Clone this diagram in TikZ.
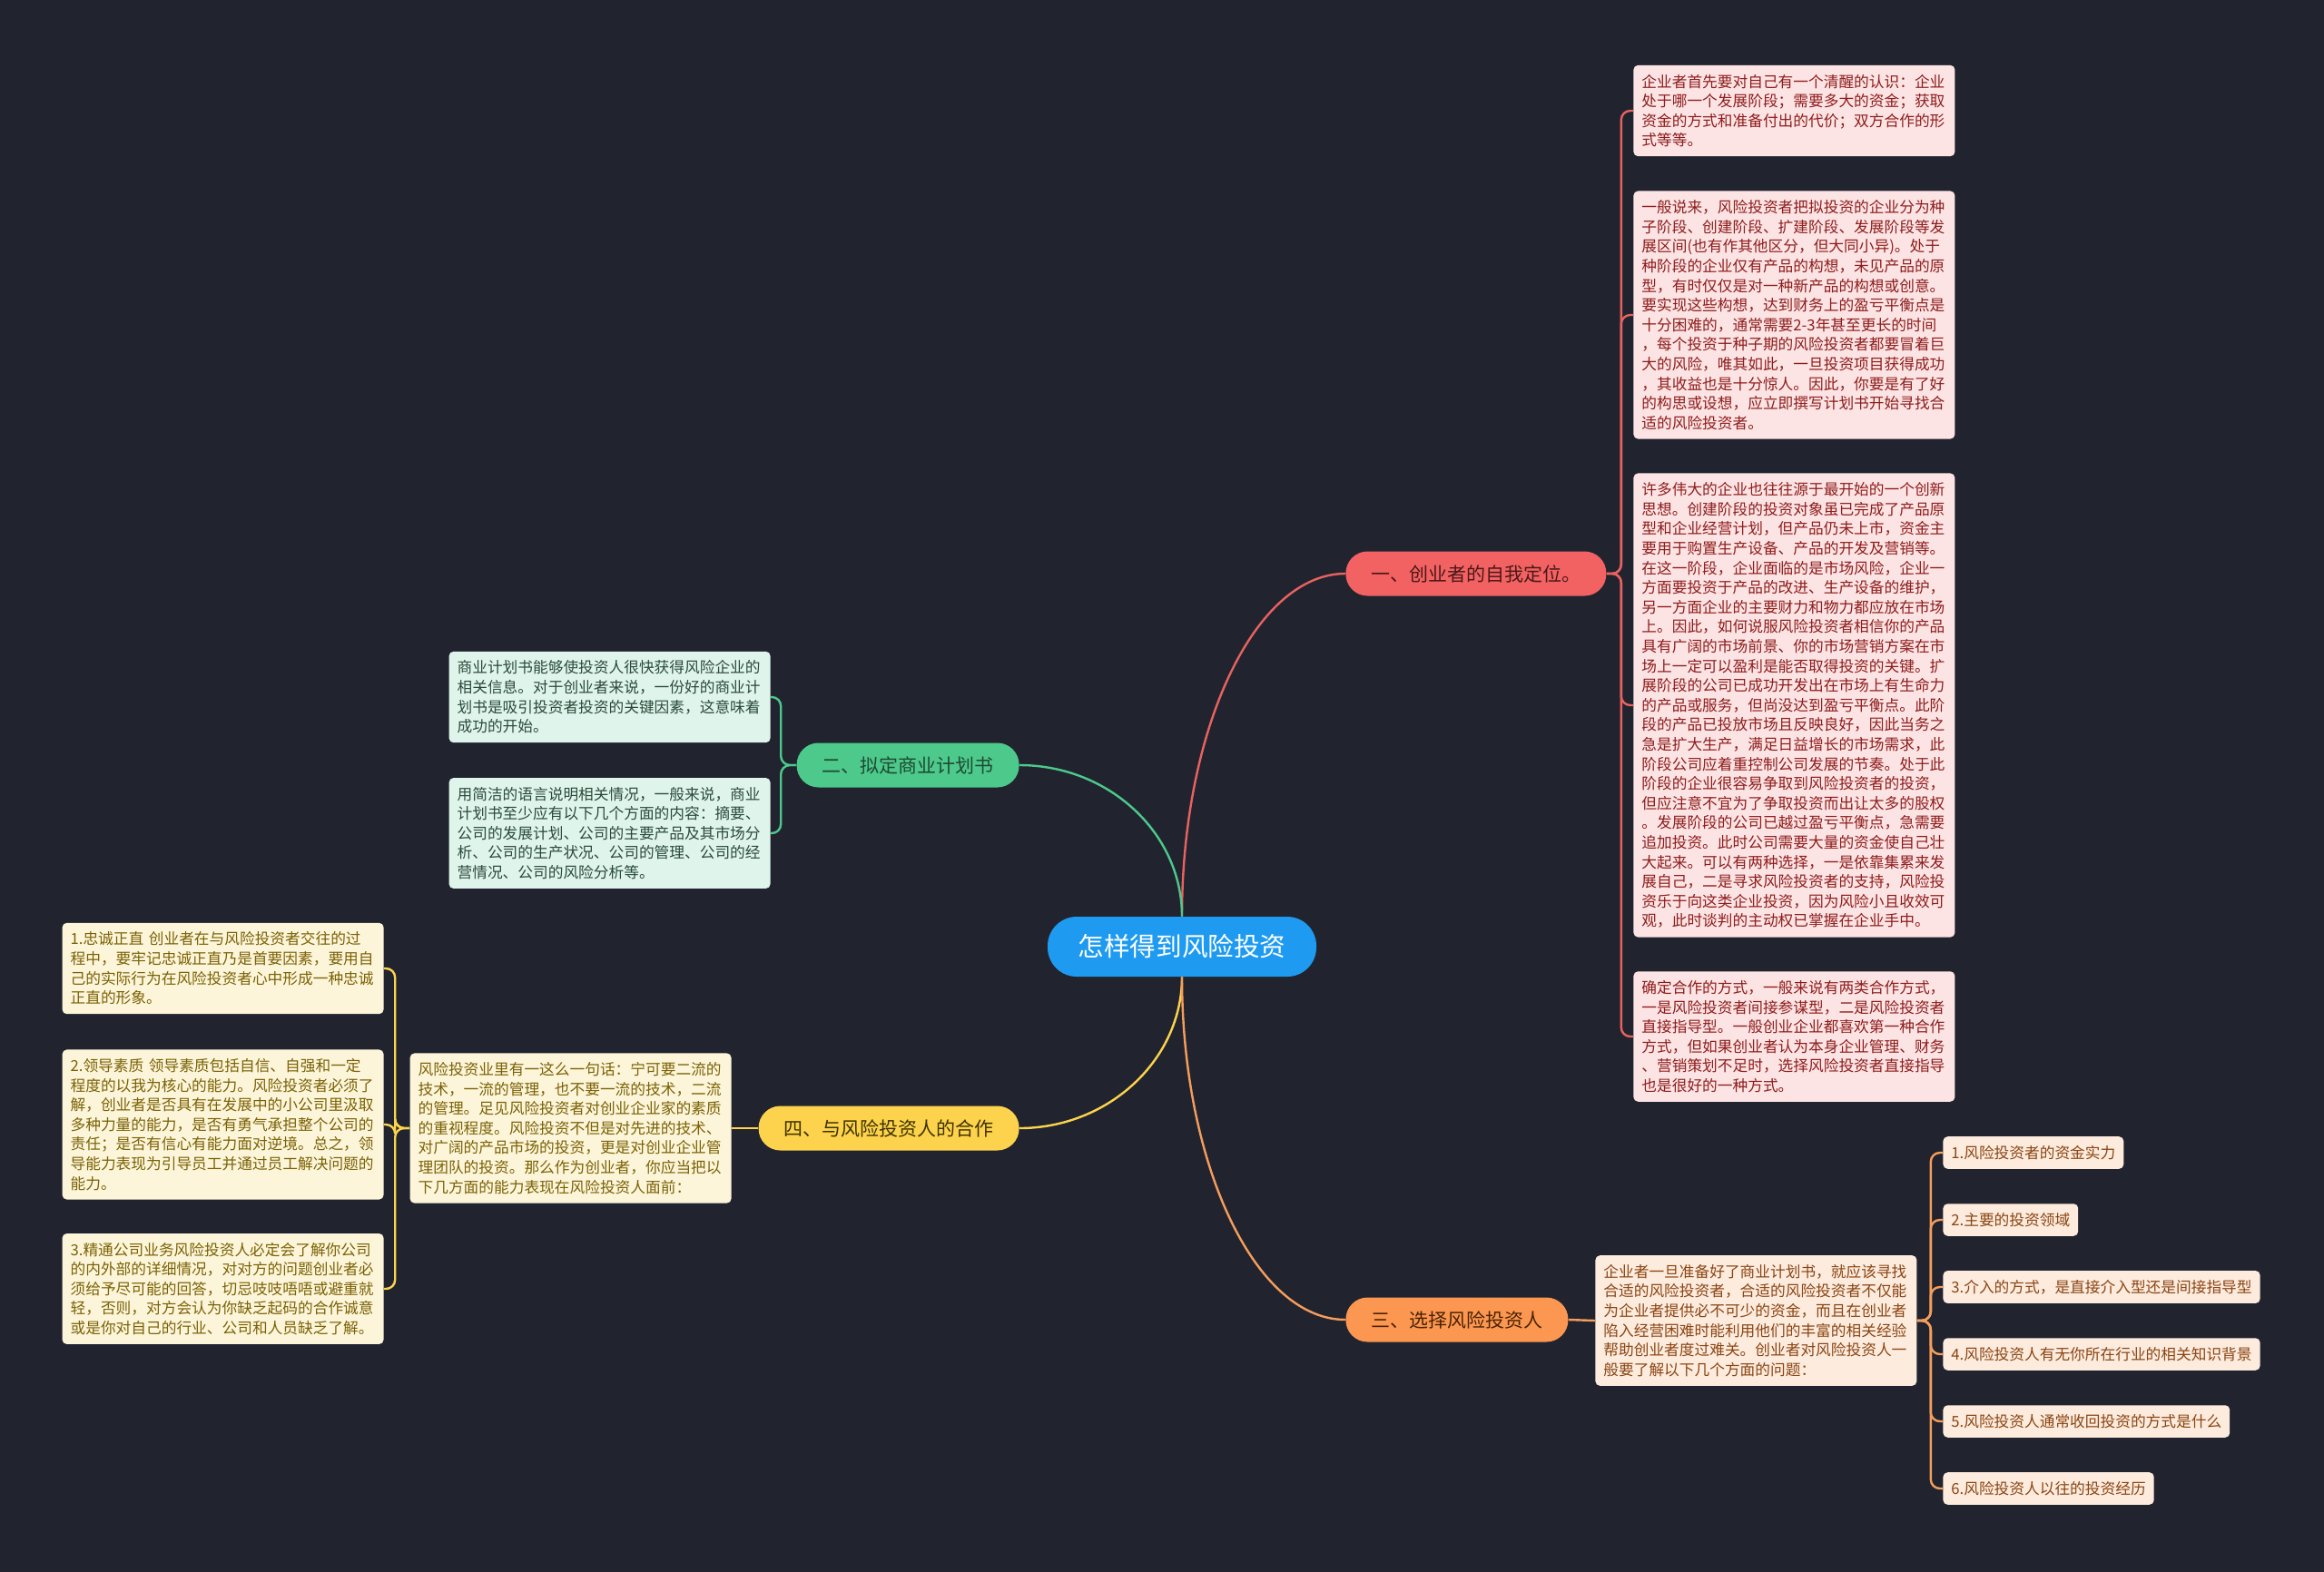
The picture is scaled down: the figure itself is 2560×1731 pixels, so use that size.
\documentclass[tikz,border=0pt]{standalone}
\usepackage{fontspec}
\newfontfamily\cjk{Noto Sans CJK SC}
\definecolor{bgdark}{HTML}{21242F}
\definecolor{rootblue}{HTML}{1E9BF0}
\definecolor{redtopic}{HTML}{F36262}
\definecolor{redline}{HTML}{E8625F}
\definecolor{redleaf}{HTML}{FDE4E4}
\definecolor{redtext}{HTML}{8E1C1C}
\definecolor{redhead}{HTML}{4A1818}
\definecolor{greentopic}{HTML}{4CC98B}
\definecolor{greenleaf}{HTML}{DFF5EB}
\definecolor{greentext}{HTML}{2B4A3B}
\definecolor{greenhead}{HTML}{1E4A33}
\definecolor{yellowtopic}{HTML}{FDD34D}
\definecolor{yellowleaf}{HTML}{FDF5DA}
\definecolor{yellowtext}{HTML}{7A6205}
\definecolor{yellowhead}{HTML}{3D3200}
\definecolor{orangetopic}{HTML}{FC9752}
\definecolor{orangeline}{HTML}{F59D5B}
\definecolor{orangeleaf}{HTML}{FDEBDE}
\definecolor{orangetext}{HTML}{8A4512}
\definecolor{orangehead}{HTML}{4A2200}
\begin{document}
\begin{tikzpicture}[x=0.5pt,y=-0.5pt,
    rootnode/.style={fill=rootblue,text=white,rounded corners=16pt,minimum width=148pt,minimum height=33pt,inner sep=0pt,font=\cjk\fontsize{14.3pt}{16pt}\selectfont},
    topic/.style={rounded corners=12pt,minimum height=24.5pt,inner xsep=14pt,inner ysep=0pt,font=\cjk\fontsize{10.5pt}{12pt}\selectfont},
    leaf/.style={rounded corners=2.5pt,inner xsep=4.5pt,inner ysep=5pt,font=\cjk\fontsize{8.35pt}{10.8pt}\selectfont},
    para/.style={leaf,text width=168pt,align=left},
    link/.style={line width=1.2pt},
    bracket/.style={link,rounded corners=5pt}]
    % Background
    \useasboundingbox (0,0) rectangle (2560,1731);
    \fill[bgdark] (-20,-20) rectangle (2580,1751);

    % Root
    \node[rootnode] (root) at (1302,1043) {怎样得到风险投资};

    % Main branches
    \node[topic,fill=redtopic,text=redhead,anchor=west] (self) at (1482,632) {一、创业者的自我定位。};
    \node[topic,fill=greentopic,text=greenhead,anchor=east] (plan) at (1123,843) {二、拟定商业计划书};
    \node[topic,fill=orangetopic,text=orangehead,anchor=west] (choose) at (1482,1454) {三、选择风险投资人};
    \node[topic,fill=yellowtopic,text=yellowhead,anchor=east] (work) at (1123,1243) {四、与风险投资人的合作};

    \draw[link,redline] (root.north) .. controls +(0,-208) and +(-99,0) .. (self.west);
    \draw[link,greentopic] (root.north) .. controls +(0,-92) and +(98,0) .. (plan.east);
    \draw[link,yellowtopic] (root.south) .. controls +(0,91) and +(98,0) .. (work.east);
    \draw[link,orangeline] (root.south) .. controls +(0,207) and +(-99,0) .. (choose.west);

    % Self positioning
    \node[para,fill=redleaf,text=redtext,anchor=west] (self1) at (1799,122) {企业者首先要对自己有一个清醒的认识：企业\\
处于哪一个发展阶段；需要多大的资金；获取\\
资金的方式和准备付出的代价；双方合作的形\\
式等等。};
    \node[para,fill=redleaf,text=redtext,anchor=west] (self2) at (1799,347) {一般说来，风险投资者把拟投资的企业分为种\\
子阶段、创建阶段、扩建阶段、发展阶段等发\\
展区间(也有作其他区分，但大同小异)。处于\\
种阶段的企业仅有产品的构想，未见产品的原\\
型，有时仅仅是对一种新产品的构想或创意。\\
要实现这些构想，达到财务上的盈亏平衡点是\\
十分困难的，通常需要2-3年甚至更长的时间\\
，每个投资于种子期的风险投资者都要冒着巨\\
大的风险，唯其如此，一旦投资项目获得成功\\
，其收益也是十分惊人。因此，你要是有了好\\
的构思或设想，应立即撰写计划书开始寻找合\\
适的风险投资者。};
    \node[para,fill=redleaf,text=redtext,anchor=west] (self3) at (1799,777) {许多伟大的企业也往往源于最开始的一个创新\\
思想。创建阶段的投资对象虽已完成了产品原\\
型和企业经营计划，但产品仍未上市，资金主\\
要用于购置生产设备、产品的开发及营销等。\\
在这一阶段，企业面临的是市场风险，企业一\\
方面要投资于产品的改进、生产设备的维护，\\
另一方面企业的主要财力和物力都应放在市场\\
上。因此，如何说服风险投资者相信你的产品\\
具有广阔的市场前景、你的市场营销方案在市\\
场上一定可以盈利是能否取得投资的关键。扩\\
展阶段的公司已成功开发出在市场上有生命力\\
的产品或服务，但尚没达到盈亏平衡点。此阶\\
段的产品已投放市场且反映良好，因此当务之\\
急是扩大生产，满足日益增长的市场需求，此\\
阶段公司应着重控制公司发展的节奏。处于此\\
阶段的企业很容易争取到风险投资者的投资，\\
但应注意不宜为了争取投资而出让太多的股权\\
。发展阶段的公司已越过盈亏平衡点，急需要\\
追加投资。此时公司需要大量的资金使自己壮\\
大起来。可以有两种选择，一是依靠集累来发\\
展自己，二是寻求风险投资者的支持，风险投\\
资乐于向这类企业投资，因为风险小且收效可\\
观，此时谈判的主动权已掌握在企业手中。};
    \node[para,fill=redleaf,text=redtext,anchor=west] (self4) at (1799,1142) {确定合作的方式，一般来说有两类合作方式，\\
一是风险投资者间接参谋型，二是风险投资者\\
直接指导型。一般创业企业都喜欢第一种合作\\
方式，但如果创业者认为本身企业管理、财务\\
、营销策划不足时，选择风险投资者直接指导\\
也是很好的一种方式。};
    \foreach \n in {1,...,4}
        \draw[bracket,redline] (self.east) -- ++(16,0) |- (self\n.west);

    % Business plan
    \node[para,fill=greenleaf,text=greentext,anchor=east] (plan1) at (849,768) {商业计划书能够使投资人很快获得风险企业的\\
相关信息。对于创业者来说，一份好的商业计\\
划书是吸引投资者投资的关键因素，这意味着\\
成功的开始。};
    \node[para,fill=greenleaf,text=greentext,anchor=east] (plan2) at (849,918) {用简洁的语言说明相关情况，一般来说，商业\\
计划书至少应有以下几个方面的内容：摘要、\\
公司的发展计划、公司的主要产品及其市场分\\
析、公司的生产状况、公司的管理、公司的经\\
营情况、公司的风险分析等。};
    \foreach \n in {1,2}
        \draw[bracket,greentopic] (plan.west) -- ++(-17,0) |- (plan\n.east);

    % Choosing an investor
    \node[para,fill=orangeleaf,text=orangetext,anchor=west] (pick) at (1757,1455) {企业者一旦准备好了商业计划书，就应该寻找\\
合适的风险投资者，合适的风险投资者不仅能\\
为企业者提供必不可少的资金，而且在创业者\\
陷入经营困难时能利用他们的丰富的相关经验\\
帮助创业者度过难关。创业者对风险投资人一\\
般要了解以下几个方面的问题：};
    \draw[link,orangeline] (choose.east) -- (pick.west);
    \foreach \txt [count=\n] in {1.风险投资者的资金实力,2.主要的投资领域,3.介入的方式，是直接介入型还是间接指导型,4.风险投资人有无你所在行业的相关知识背景,5.风险投资人通常收回投资的方式是什么,6.风险投资人以往的投资经历}{
        \node[leaf,fill=orangeleaf,text=orangetext,anchor=west] (pick\n) at (2140,1270+74*\n-74) {\txt};
        \draw[bracket,orangeline] (pick.east) -- ++(15,0) |- (pick\n.west);
    }

    % Working with the investor
    \node[para,fill=yellowleaf,text=yellowtext,anchor=east] (trait) at (806,1243) {风险投资业里有一这么一句话：宁可要二流的\\
技术，一流的管理，也不要一流的技术，二流\\
的管理。足见风险投资者对创业企业家的素质\\
的重视程度。风险投资不但是对先进的技术、\\
对广阔的产品市场的投资，更是对创业企业管\\
理团队的投资。那么作为创业者，你应当把以\\
下几方面的能力表现在风险投资人面前：};
    \draw[link,yellowtopic] (work.west) -- (trait.east);
    \node[para,fill=yellowleaf,text=yellowtext,anchor=east] (trait1) at (423,1067) {1.忠诚正直 创业者在与风险投资者交往的过\\
程中，要牢记忠诚正直乃是首要因素，要用自\\
己的实际行为在风险投资者心中形成一种忠诚\\
正直的形象。};
    \node[para,fill=yellowleaf,text=yellowtext,anchor=east] (trait2) at (423,1239) {2.领导素质 领导素质包括自信、自强和一定\\
程度的以我为核心的能力。风险投资者必须了\\
解，创业者是否具有在发展中的小公司里汲取\\
多种力量的能力，是否有勇气承担整个公司的\\
责任；是否有信心有能力面对逆境。总之，领\\
导能力表现为引导员工并通过员工解决问题的\\
能力。};
    \node[para,fill=yellowleaf,text=yellowtext,anchor=east] (trait3) at (423,1420) {3.精通公司业务风险投资人必定会了解你公司\\
的内外部的详细情况，对对方的问题创业者必\\
须给予尽可能的回答，切忌吱吱唔唔或避重就\\
轻，否则，对方会认为你缺乏起码的合作诚意\\
或是你对自己的行业、公司和人员缺乏了解。};
    \foreach \n in {1,2,3}
        \draw[bracket,yellowtopic] (trait.west) -- ++(-16,0) |- (trait\n.east);
\end{tikzpicture}
\end{document}
